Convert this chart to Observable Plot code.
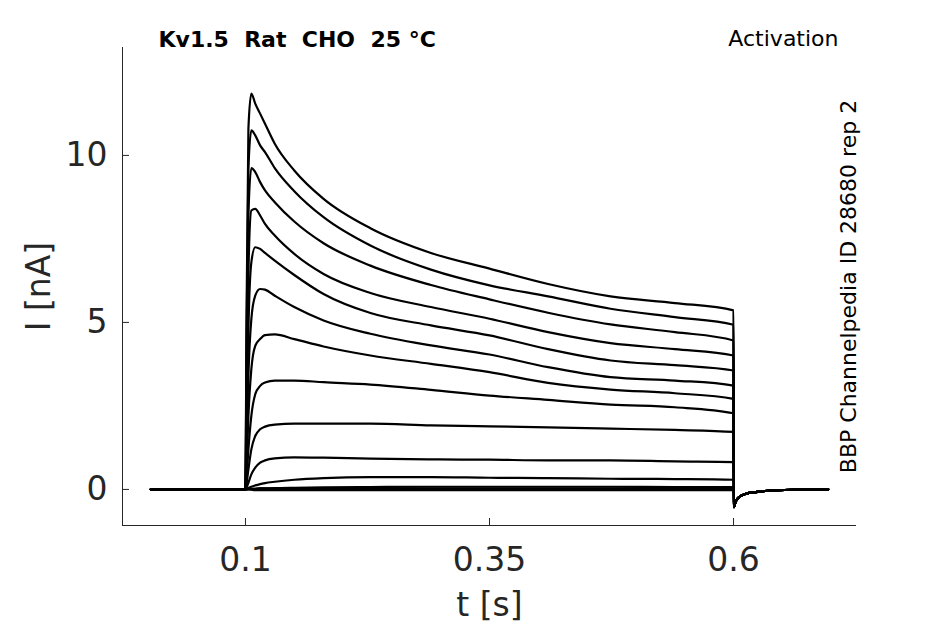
<!DOCTYPE html>
<html>
<head>
<meta charset="utf-8">
<script src="https://cdn.jsdelivr.net/npm/d3@7"></script>
<script src="https://cdn.jsdelivr.net/npm/@observablehq/plot@0.6"></script>
<style>
  html, body { margin: 0; padding: 0; background: #fff; }
  svg text { white-space: pre; }
</style>
</head>
<body>
<div id="chart"></div>
<script>
// ---- data ----
const xTicks = [0.1, 0.35, 0.6];
const yTicks = [0, 5, 10];
const xDomain = [-0.026, 0.726];
const yDomain = [-1.08, 13.23];

const tBase = [0.003];
const iBase = [0];

const tPulse = [0.1, 0.101, 0.103, 0.106, 0.11, 0.115, 0.12, 0.13, 0.15, 0.18, 0.228, 0.29, 0.35, 0.41, 0.474, 0.54, 0.6];
const trace1  = [0, 5.0, 10.8, 11.85, 11.55, 11.25, 10.95, 10.35, 9.55, 8.7, 7.82, 7.08, 6.61, 6.15, 5.78, 5.58, 5.36];
const trace2  = [0, 4.0, 9.6, 10.75, 10.6, 10.3, 10.1, 9.62, 8.93, 8.15, 7.3, 6.58, 6.11, 5.78, 5.41, 5.16, 4.93];
const trace3  = [0, 3.0, 8.2, 9.62, 9.5, 9.2, 8.95, 8.6, 8.02, 7.37, 6.7, 6.12, 5.69, 5.29, 4.94, 4.71, 4.46];
const trace4  = [0, 2.2, 6.5, 8.35, 8.4, 8.2, 7.95, 7.6, 7.05, 6.45, 5.88, 5.46, 5.11, 4.71, 4.38, 4.2, 4.01];
const trace5  = [0, 1.5, 4.8, 6.8, 7.25, 7.2, 7.08, 6.85, 6.42, 5.85, 5.28, 4.91, 4.61, 4.2, 3.86, 3.72, 3.56];
const trace6  = [0, 1.0, 3.4, 5.1, 5.8, 6.0, 5.98, 5.8, 5.46, 5.06, 4.66, 4.31, 4.04, 3.66, 3.36, 3.26, 3.11];
const trace7  = [0, 0.6, 2.2, 3.6, 4.3, 4.5, 4.62, 4.64, 4.5, 4.28, 4.01, 3.76, 3.51, 3.19, 2.99, 2.88, 2.71];
const trace8  = [0, 0.3, 1.2, 2.2, 2.85, 3.1, 3.2, 3.26, 3.26, 3.21, 3.14, 2.98, 2.81, 2.68, 2.54, 2.46, 2.28];
const trace9  = [0, 0.15, 0.6, 1.2, 1.6, 1.8, 1.88, 1.94, 1.97, 1.97, 1.97, 1.92, 1.89, 1.86, 1.82, 1.78, 1.72];
const trace10 = [0, 0.05, 0.2, 0.45, 0.65, 0.8, 0.87, 0.93, 0.96, 0.95, 0.92, 0.9, 0.89, 0.87, 0.87, 0.84, 0.82];
const trace11 = [0, 0.01, 0.04, 0.08, 0.12, 0.16, 0.19, 0.23, 0.29, 0.34, 0.37, 0.37, 0.35, 0.34, 0.32, 0.31, 0.29];
const trace12 = [0, 0, 0.01, 0.01, 0.02, 0.03, 0.03, 0.04, 0.05, 0.06, 0.07, 0.08, 0.08, 0.08, 0.08, 0.07, 0.07];
const trace13 = [0, 0, 0.01, 0.02, 0.02, 0.03, 0.03, 0.03, 0.03, 0.03, 0.03, 0.03, 0.03, 0.03, 0.03, 0.03, 0.03];
const trace14 = [0, 0, 0, -0.01, -0.02, -0.02, -0.02, -0.02, -0.02, -0.02, -0.02, -0.02, -0.02, -0.02, -0.02, -0.02, -0.02];

const tTail = [0.6004, 0.602, 0.605, 0.609, 0.615, 0.6225, 0.635, 0.66, 0.697];
const iTail = [-0.53, -0.38, -0.25, -0.17, -0.11, -0.08, -0.04, -0.01, 0];

const traces = [trace1, trace2, trace3, trace4, trace5, trace6, trace7, trace8, trace9, trace10, trace11, trace12, trace13, trace14];

// ---- build rows ----
const rows = [];
traces.forEach((vals, k) => {
  tBase.forEach((t, j) => rows.push({trace: k, t, i: iBase[j]}));
  tPulse.forEach((t, j) => rows.push({trace: k, t, i: vals[j]}));
  tTail.forEach((t, j) => rows.push({trace: k, t, i: iTail[j]}));
});

const W = 945, H = 624;
const mL = 122, mR = 89, mT = 47, mB = 99;
const plotW = W - mL - mR, plotH = H - mT - mB;
const ink = "#262626";
const font = "DejaVu Sans, sans-serif";

const chart = Plot.plot({
  width: W,
  height: H,
  marginLeft: mL,
  marginRight: mR,
  marginTop: mT,
  marginBottom: mB,
  style: {fontFamily: font, color: ink, background: "#fff", overflow: "visible"},
  x: {domain: xDomain},
  y: {domain: yDomain},
  marks: [
    Plot.line(rows, {x: "t", y: "i", z: "trace", stroke: "black", strokeWidth: 2.2, curve: "monotone-x"}),
    // axis lines
    Plot.ruleX([xDomain[0]], {stroke: ink, strokeWidth: 1}),
    Plot.ruleY([yDomain[0]], {stroke: ink, strokeWidth: 1}),
    // inward ticks
    Plot.ruleX(xTicks, {stroke: ink, strokeWidth: 1, insetTop: plotH - 7}),
    Plot.ruleY(yTicks, {stroke: ink, strokeWidth: 1, insetRight: plotW - 7}),
    // tick labels
    Plot.axisX({ticks: xTicks, tickSize: 0, tickPadding: 22, fontSize: 33, label: null, tickFormat: d => String(d), color: ink}),
    Plot.axisY({ticks: yTicks, tickSize: 0, tickPadding: 15, fontSize: 33, label: null, tickFormat: d => String(d), color: ink}),
    // axis labels
    Plot.text(["t [s]"], {frameAnchor: "bottom", dy: 80, fontSize: 33, fill: ink, lineAnchor: "middle"}),
    Plot.text(["I [nA]"], {frameAnchor: "left", dx: -83, rotate: -90, fontSize: 33, fill: ink, lineAnchor: "middle", textAnchor: "middle"}),
    // titles
    Plot.text(["Kv1.5  Rat  CHO  25 °C"], {frameAnchor: "top-left", textAnchor: "start", dx: 36, dy: -8, fontSize: 22, fontWeight: "bold", fill: "black", lineAnchor: "middle"}),
    Plot.text(["Activation"], {frameAnchor: "top-right", textAnchor: "end", dx: -18, dy: -9, fontSize: 22, fill: "black", lineAnchor: "middle"}),
    Plot.text(["BBP Channelpedia ID 28680 rep 2"], {frameAnchor: "right", dx: -8, rotate: -90, fontSize: 22, fill: "black", lineAnchor: "middle", textAnchor: "middle"})
  ]
});
document.getElementById("chart").appendChild(chart);
</script>
</body>
</html>
